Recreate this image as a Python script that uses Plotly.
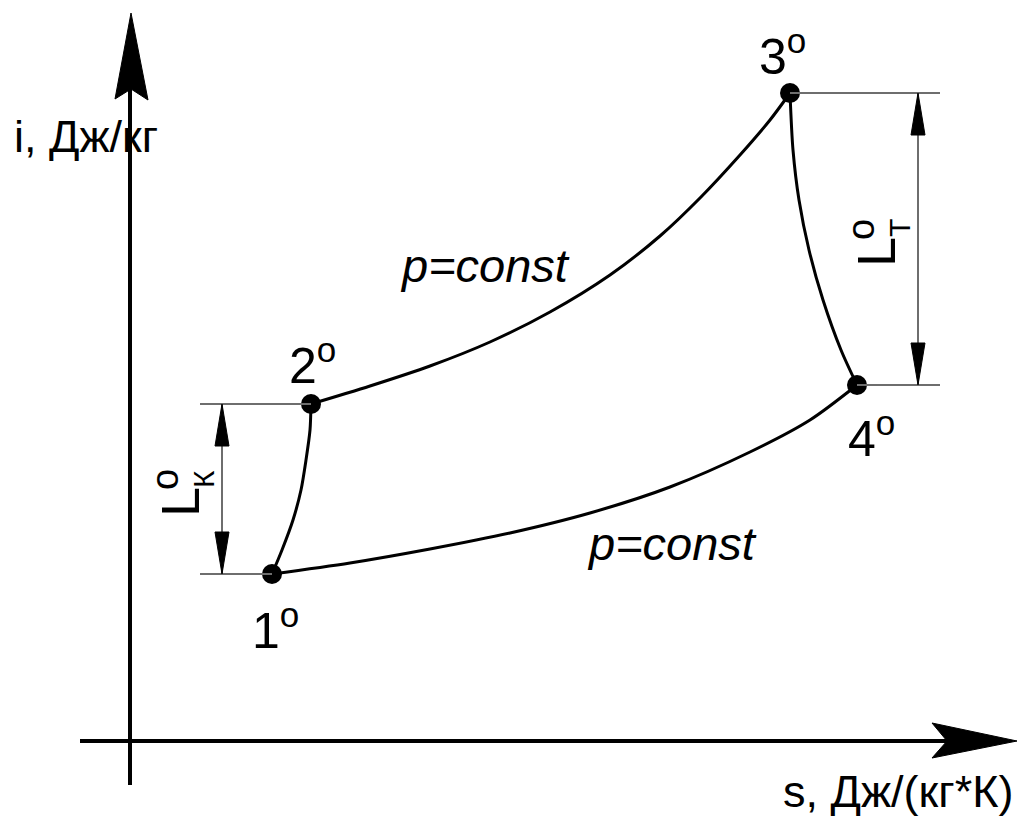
import plotly.graph_objects as go

# State points of the Brayton cycle in the i-s plane (arbitrary units)
point_names = ["1", "2", "3", "4"]
s_points = [1.42, 1.81, 6.60, 7.27]
i_points = [1.67, 3.37, 6.48, 3.56]

# Process paths
s_12 = [1.42, 1.52, 1.63, 1.71, 1.76, 1.80, 1.81]              # compression 1-2
i_12 = [1.67, 1.91, 2.21, 2.51, 2.81, 3.11, 3.37]
s_23 = [1.81, 2.40, 3.00, 3.60, 4.20, 4.80, 5.30, 5.70, 6.10, 6.40, 6.60]  # heat addition
i_23 = [3.37, 3.55, 3.75, 3.99, 4.29, 4.66, 5.05, 5.43, 5.86, 6.21, 6.48]
s_34 = [6.60, 6.63, 6.69, 6.79, 6.93, 7.11, 7.27]             # expansion 3-4
i_34 = [6.48, 5.91, 5.41, 4.91, 4.41, 3.91, 3.56]
s_14 = [1.42, 2.20, 3.00, 3.80, 4.60, 5.40, 6.20, 6.80, 7.27]  # heat rejection
i_14 = [1.67, 1.78, 1.92, 2.08, 2.28, 2.54, 2.89, 3.21, 3.56]

x_title = "s, Дж/(кг*К)"
y_title = "i, Дж/кг"
process_label = "p=const"

FONT = "Liberation Sans, Arial, sans-serif"
BLACK = "#000000"
GREY = "#6e6e6e"

fig = go.Figure()

for xs, ys in [(s_12, i_12), (s_23, i_23), (s_34, i_34), (s_14, i_14)]:
    fig.add_trace(go.Scatter(
        x=xs, y=ys, mode="lines",
        line=dict(color=BLACK, width=3, shape="spline", smoothing=0.8),
        hoverinfo="skip", showlegend=False,
    ))

fig.add_trace(go.Scatter(
    x=s_points, y=i_points, mode="markers",
    marker=dict(color=BLACK, size=20),
    hoverinfo="skip", showlegend=False,
))

shapes = []

# coordinate axes with arrowheads
shapes.append(dict(type="line", xref="x", yref="y", x0=0, x1=0, y0=-0.44, y1=6.6,
                   line=dict(color=BLACK, width=4)))
shapes.append(dict(type="path", xref="x", yref="y",
                   path="M 0.01,7.28 L -0.15,6.42 L 0.01,6.52 L 0.18,6.41 Z",
                   fillcolor=BLACK, line=dict(color=BLACK, width=1)))
shapes.append(dict(type="line", xref="x", yref="y", x0=-0.50, x1=8.2, y0=0, y1=0,
                   line=dict(color=BLACK, width=4)))
shapes.append(dict(type="path", xref="x", yref="y",
                   path="M 8.87,0.0 L 8.02,0.18 L 8.17,0.0 L 8.02,-0.17 Z",
                   fillcolor=BLACK, line=dict(color=BLACK, width=1)))


def dimension(sx, i_lo, i_hi, s_lo_pt, s_hi_pt, s_ext):
    """Vertical dimension line between two enthalpy levels with extension lines."""
    out = []
    out.append(dict(type="line", xref="x", yref="y", x0=s_hi_pt, x1=s_ext,
                    y0=i_hi, y1=i_hi, line=dict(color=GREY, width=2)))
    out.append(dict(type="line", xref="x", yref="y", x0=s_lo_pt, x1=s_ext,
                    y0=i_lo, y1=i_lo, line=dict(color=GREY, width=2)))
    out.append(dict(type="line", xref="x", yref="y", x0=sx, x1=sx,
                    y0=i_lo, y1=i_hi, line=dict(color=GREY, width=2)))
    hw, hl = 0.07, 0.42
    out.append(dict(type="path", xref="x", yref="y",
                    path=f"M {sx},{i_hi} L {sx - hw},{i_hi - hl} L {sx + hw},{i_hi - hl} Z",
                    fillcolor=BLACK, line=dict(color=BLACK, width=1)))
    out.append(dict(type="path", xref="x", yref="y",
                    path=f"M {sx},{i_lo} L {sx - hw},{i_lo + hl} L {sx + hw},{i_lo + hl} Z",
                    fillcolor=BLACK, line=dict(color=BLACK, width=1)))
    return out


# turbine work L_T between points 3 and 4
shapes += dimension(7.88, i_points[3], i_points[2], s_points[3], s_points[2], 8.10)
# compressor work L_K between points 1 and 2
shapes += dimension(0.92, i_points[0], i_points[1], s_points[0], s_points[1], 0.70)

annotations = []

# state point labels
label_shift = {"1": (3, -53), "2": (1, 42), "3": (-8, 40), "4": (14, -50)}
for name, sv, iv in zip(point_names, s_points, i_points):
    dx, dy = label_shift[name]
    annotations.append(dict(
        x=sv, y=iv, xref="x", yref="y", text=f"{name}<sup>o</sup>",
        showarrow=False, xanchor="center", yanchor="middle", xshift=dx, yshift=dy,
        font=dict(family=FONT, size=50, color=BLACK),
    ))

# process labels
for sx, iy in [(3.55, 4.76), (5.42, 1.98)]:
    annotations.append(dict(
        x=sx, y=iy, xref="x", yref="y", text=f"<i>{process_label}</i>",
        showarrow=False, xanchor="center", yanchor="middle",
        font=dict(family=FONT, size=47, color=BLACK),
    ))

# axis titles
annotations.append(dict(x=-0.44, y=6.05, xref="x", yref="y", text=y_title,
                        showarrow=False, xanchor="center", yanchor="middle",
                        font=dict(family=FONT, size=45, color=BLACK)))
annotations.append(dict(x=8.85, y=-0.50, xref="x", yref="y", text=x_title,
                        showarrow=False, xanchor="right", yanchor="middle",
                        font=dict(family=FONT, size=45, color=BLACK)))

# dimension labels, rotated along the dimension lines
def dim_label(s_l, i_l, s_sub, i_sub, s_sup, i_sup, sub):
    return [
        dict(x=s_l, y=i_l, xref="x", yref="y", text="L", textangle=-90,
             showarrow=False, xanchor="center", yanchor="middle",
             font=dict(family=FONT, size=54, color=BLACK)),
        dict(x=s_sub, y=i_sub, xref="x", yref="y", text=sub, textangle=-90,
             showarrow=False, xanchor="center", yanchor="middle",
             font=dict(family=FONT, size=30, color=BLACK)),
        dict(x=s_sup, y=i_sup, xref="x", yref="y", text="o", textangle=-90,
             showarrow=False, xanchor="center", yanchor="middle",
             font=dict(family=FONT, size=38, color=BLACK)),
    ]

annotations += dim_label(7.46, 4.89, 7.69, 5.13, 7.31, 5.11, "Т")
annotations += dim_label(0.50, 2.39, 0.73, 2.62, 0.35, 2.61, "К")

fig.update_layout(
    width=1018, height=816,
    margin=dict(l=0, r=0, t=0, b=0),
    paper_bgcolor="white", plot_bgcolor="white",
    xaxis=dict(range=[-1.30, 8.88], visible=False, fixedrange=True),
    yaxis=dict(range=[-0.75, 7.41], visible=False, fixedrange=True),
    shapes=shapes, annotations=annotations,
    showlegend=False,
)

fig.write_html("out.html")
